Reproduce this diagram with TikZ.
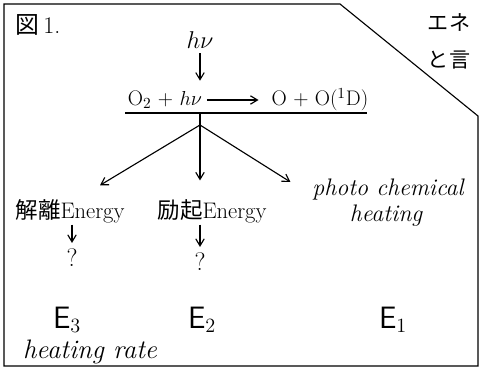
\documentclass[tikz,border=0pt]{standalone}
\usepackage{fontspec}
\newfontfamily\cjk{Noto Sans CJK JP}
\usetikzlibrary{arrows.meta,positioning,calc}

\begin{document}
\begin{tikzpicture}[x=0.025cm,y=-0.025cm,line width=0.8pt,
  >={Straight Barb[length=5pt,width=6pt]},
  txt/.style={inner sep=1pt,font=\fontsize{15}{17}\selectfont},
  hand/.style={inner sep=1pt,font=\fontsize{17}{20}\selectfont\itshape},
  energy/.style={inner sep=1pt,font=\fontsize{22}{24}\selectfont\sffamily}]
\useasboundingbox (0,0) rectangle (480,374);
% frame with cut corner
\draw (4,366) -- (4,4) -- (340,4) -- (478,116) -- (478,366) -- cycle;

\node (fig) at (38,25) [txt,font=\fontsize{17}{19}\selectfont] {{\cjk 図}\,1.};
\node (side1) at (449,22) [txt,font=\fontsize{15}{17}\selectfont\cjk] {エネ};
\node (side2) at (449,60) [txt,font=\fontsize{15}{17}\selectfont\cjk] {と言};

\node (hnu) at (200,40) [txt,font=\fontsize{19}{21}\selectfont] {$h\nu$};
\node (reac) at (165,100) [txt] {O$_2$ + $h\nu$};
\node (prod) at (320,100) [txt] {O + O($^1$D)};
\coordinate (ul-l) at (125,113);
\coordinate (ul-r) at (367,113);
\coordinate (split) at (200,125);

\node (diss) at (70,211) [txt,font=\fontsize{16}{18}\selectfont] {{\cjk 解離}Energy};
\node (exc) at (212,211) [txt,font=\fontsize{16}{18}\selectfont] {{\cjk 励起}Energy};
\node (photo) at (388,190) [hand] {photo chemical};
\node (heat) at (386,216) [hand] {heating};

\node (q3) at (72,258) [txt,font=\fontsize{18}{20}\selectfont] {?};
\node (q2) at (200,262) [txt,font=\fontsize{18}{20}\selectfont] {?};

\node (e3) at (67,320) [energy] {E$_3$};
\node (e2) at (202,320) [energy] {E$_2$};
\node (e1) at (393,320) [energy] {E$_1$};
\node (rate) at (90,352) [hand,font=\fontsize{19}{21}\selectfont\itshape] {heating rate};

\draw[->,shorten <=2pt,shorten >=6pt] (hnu) -- (hnu |- reac.north);
\draw[->,shorten <=2pt,shorten >=8pt] (reac) -- (prod);
\draw (ul-l) -- (ul-r);
\draw (hnu |- ul-l) -- (split);
\draw[->] (split) -- ($(diss.north)+(30,-12)$);
\draw[->,shorten >=12pt] (split) -- (split |- exc.north);
\draw[->] (split) -- ($(photo.west)+(-20,-8)$);
\draw[->,shorten >=3pt] (q3 |- diss.south) -- (q3.north);
\draw[->,shorten >=3pt] (q2 |- exc.south) -- (q2.north);
\end{tikzpicture}
\end{document}
